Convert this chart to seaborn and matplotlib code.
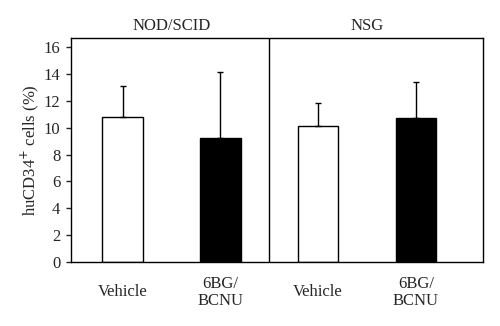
import numpy as np
import pandas as pd
import matplotlib
matplotlib.use("Agg")
import matplotlib.pyplot as plt
import seaborn as sns

# Data
groups = ["NOD/SCID", "NSG"]
keys = ["nod_veh", "nod_bg", "nsg_veh", "nsg_bg"]
tick_labels = ["Vehicle", "6BG/\nBCNU", "Vehicle", "6BG/\nBCNU"]
means = [10.8, 9.25, 10.15, 10.75]
errs = [2.33, 4.95, 1.67, 2.7]
bar_colors = ["white", "black", "white", "black"]
yticks = [0, 2, 4, 6, 8, 10, 12, 14, 16]

sns.set_style("ticks")
plt.rcParams["font.family"] = ["Liberation Serif", "DejaVu Serif"]

df = pd.DataFrame({"key": keys, "val": means})

fig = plt.figure(figsize=(5.0, 3.26), dpi=100)
ax = fig.add_axes([0.1414, 0.197, 0.824, 0.6864])

sns.barplot(data=df, x="key", y="val", hue="key", palette=bar_colors,
            order=keys, hue_order=keys, width=0.415, edgecolor="black",
            linewidth=1.0, legend=False, errorbar=None, ax=ax)

xs = np.arange(len(keys))
ax.errorbar(xs, means, yerr=[np.zeros(len(errs)), errs], fmt="none",
            ecolor="black", elinewidth=1.0, capsize=2.2, capthick=1.0, zorder=1)

fs = 12
ax.set_xlim(-0.533, 3.685)
ax.set_ylim(0, 16.7)
ax.set_yticks(yticks)
ax.set_yticklabels([str(t) for t in yticks], fontsize=fs)
ax.set_xticks(xs)
ax.set_xticklabels(tick_labels, fontsize=fs, linespacing=1.05, va="center")
ax.tick_params(axis="x", length=0, pad=22)
ax.tick_params(axis="y", length=3.5, width=1.0, direction="out", pad=4)
ax.set_xlabel("")
ax.set_ylabel("huCD34$^{+}$ cells (%)", fontsize=fs, labelpad=2)

for s in ax.spines.values():
    s.set_visible(True)
    s.set_linewidth(1.0)
    s.set_color("black")

ax.axvline(1.5, color="black", lw=1.0)
ax.text(0.5, 17.6, groups[0], ha="center", va="center", fontsize=fs)
ax.text(2.5, 17.6, groups[1], ha="center", va="center", fontsize=fs)

fig.savefig("out.png", dpi=100)
